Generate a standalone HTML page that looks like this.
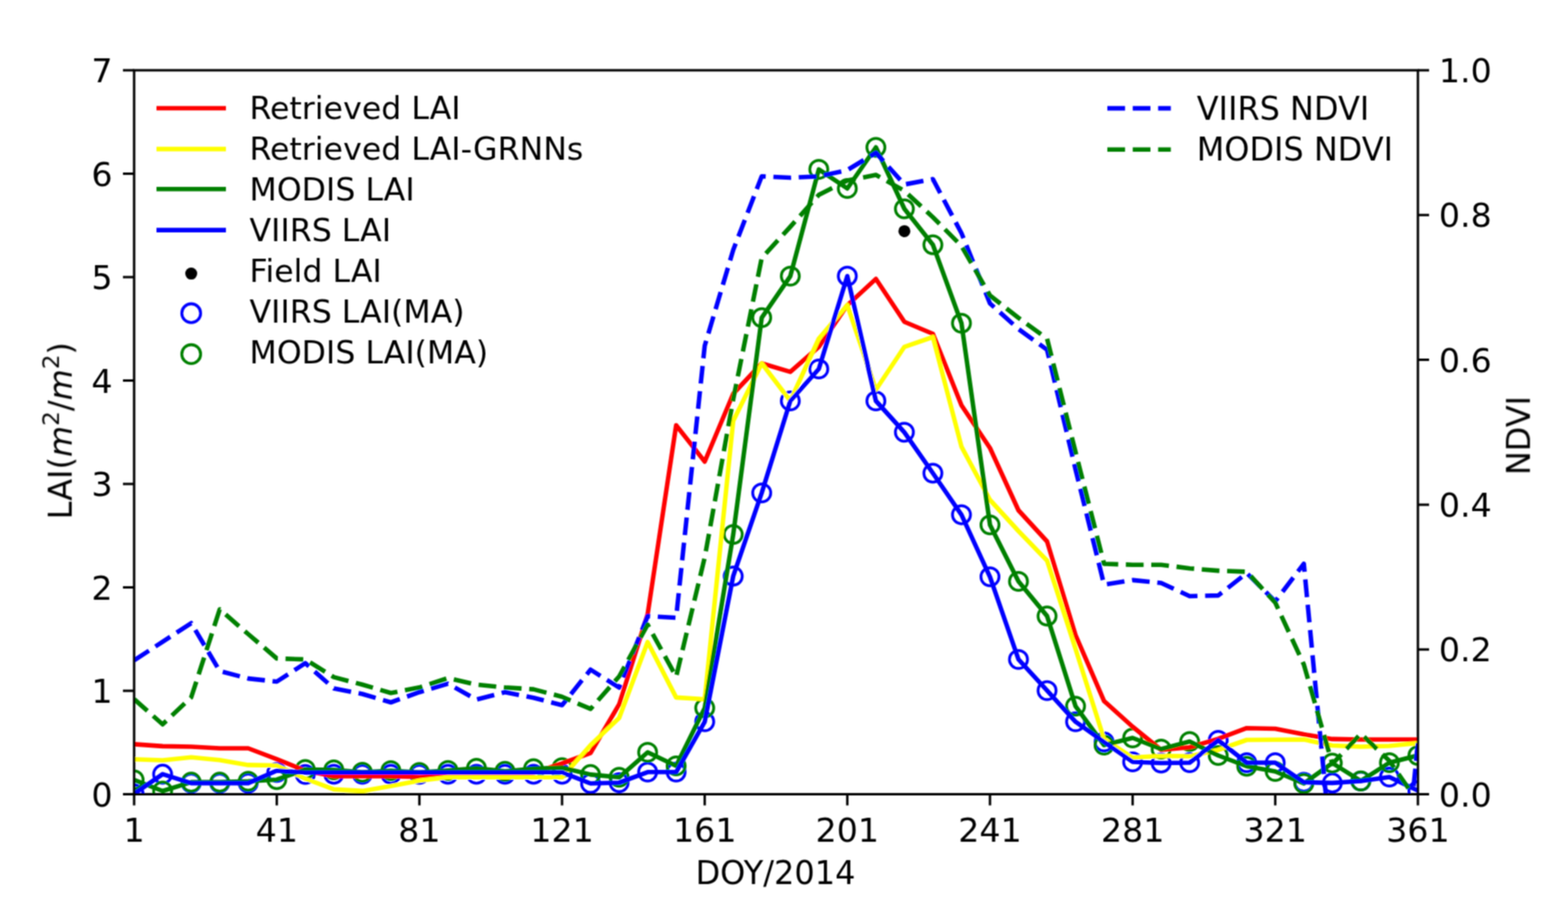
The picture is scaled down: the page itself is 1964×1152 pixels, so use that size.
<!DOCTYPE html>
<html><head><meta charset="utf-8"><title>LAI and NDVI time series</title>
<style>html,body{margin:0;padding:0;background:#fff;}body{width:1964px;height:1152px;overflow:hidden;}svg{display:block;}</style>
</head><body>
<svg width="1964" height="1152" viewBox="0 0 1964 1152" font-family="'DejaVu Sans', 'Liberation Sans', sans-serif">
<rect width="1964" height="1152" fill="#fff"/>
<filter id="soft" x="0" y="0" width="1964" height="1152" filterUnits="userSpaceOnUse"><feConvolveMatrix order="3" kernelMatrix="1 2 1 2 4 2 1 2 1" divisor="16" edgeMode="duplicate"/></filter>
<g filter="url(#soft)">
<defs><clipPath id="ax"><rect x="168.0" y="88.0" width="1608.0" height="906.5"/></clipPath></defs>
<g clip-path="url(#ax)">
<circle cx="168.0" cy="994.0" r="11.3" fill="none" stroke="#0000ff" stroke-width="3.5"/><circle cx="203.7" cy="969.4" r="11.3" fill="none" stroke="#0000ff" stroke-width="3.5"/><circle cx="239.5" cy="980.6" r="11.3" fill="none" stroke="#0000ff" stroke-width="3.5"/><circle cx="275.2" cy="980.6" r="11.3" fill="none" stroke="#0000ff" stroke-width="3.5"/><circle cx="310.9" cy="980.6" r="11.3" fill="none" stroke="#0000ff" stroke-width="3.5"/><circle cx="346.7" cy="967.3" r="11.3" fill="none" stroke="#0000ff" stroke-width="3.5"/><circle cx="382.4" cy="969.8" r="11.3" fill="none" stroke="#0000ff" stroke-width="3.5"/><circle cx="418.1" cy="969.5" r="11.3" fill="none" stroke="#0000ff" stroke-width="3.5"/><circle cx="453.9" cy="969.5" r="11.3" fill="none" stroke="#0000ff" stroke-width="3.5"/><circle cx="489.6" cy="969.5" r="11.3" fill="none" stroke="#0000ff" stroke-width="3.5"/><circle cx="525.3" cy="969.5" r="11.3" fill="none" stroke="#0000ff" stroke-width="3.5"/><circle cx="561.1" cy="969.5" r="11.3" fill="none" stroke="#0000ff" stroke-width="3.5"/><circle cx="596.8" cy="969.5" r="11.3" fill="none" stroke="#0000ff" stroke-width="3.5"/><circle cx="632.5" cy="969.5" r="11.3" fill="none" stroke="#0000ff" stroke-width="3.5"/><circle cx="668.3" cy="969.5" r="11.3" fill="none" stroke="#0000ff" stroke-width="3.5"/><circle cx="704.0" cy="969.5" r="11.3" fill="none" stroke="#0000ff" stroke-width="3.5"/><circle cx="739.7" cy="981.0" r="11.3" fill="none" stroke="#0000ff" stroke-width="3.5"/><circle cx="775.5" cy="980.0" r="11.3" fill="none" stroke="#0000ff" stroke-width="3.5"/><circle cx="811.2" cy="966.8" r="11.3" fill="none" stroke="#0000ff" stroke-width="3.5"/><circle cx="846.9" cy="966.8" r="11.3" fill="none" stroke="#0000ff" stroke-width="3.5"/><circle cx="882.7" cy="903.8" r="11.3" fill="none" stroke="#0000ff" stroke-width="3.5"/><circle cx="918.4" cy="721.4" r="11.3" fill="none" stroke="#0000ff" stroke-width="3.5"/><circle cx="954.1" cy="617.2" r="11.3" fill="none" stroke="#0000ff" stroke-width="3.5"/><circle cx="989.9" cy="502.0" r="11.3" fill="none" stroke="#0000ff" stroke-width="3.5"/><circle cx="1025.6" cy="462.0" r="11.3" fill="none" stroke="#0000ff" stroke-width="3.5"/><circle cx="1061.3" cy="345.8" r="11.3" fill="none" stroke="#0000ff" stroke-width="3.5"/><circle cx="1097.1" cy="502.0" r="11.3" fill="none" stroke="#0000ff" stroke-width="3.5"/><circle cx="1132.8" cy="541.3" r="11.3" fill="none" stroke="#0000ff" stroke-width="3.5"/><circle cx="1168.5" cy="592.5" r="11.3" fill="none" stroke="#0000ff" stroke-width="3.5"/><circle cx="1204.3" cy="644.6" r="11.3" fill="none" stroke="#0000ff" stroke-width="3.5"/><circle cx="1240.0" cy="722.3" r="11.3" fill="none" stroke="#0000ff" stroke-width="3.5"/><circle cx="1275.7" cy="825.7" r="11.3" fill="none" stroke="#0000ff" stroke-width="3.5"/><circle cx="1311.5" cy="864.7" r="11.3" fill="none" stroke="#0000ff" stroke-width="3.5"/><circle cx="1347.2" cy="903.8" r="11.3" fill="none" stroke="#0000ff" stroke-width="3.5"/><circle cx="1382.9" cy="929.0" r="11.3" fill="none" stroke="#0000ff" stroke-width="3.5"/><circle cx="1418.7" cy="954.0" r="11.3" fill="none" stroke="#0000ff" stroke-width="3.5"/><circle cx="1454.4" cy="955.5" r="11.3" fill="none" stroke="#0000ff" stroke-width="3.5"/><circle cx="1490.1" cy="955.0" r="11.3" fill="none" stroke="#0000ff" stroke-width="3.5"/><circle cx="1525.9" cy="927.0" r="11.3" fill="none" stroke="#0000ff" stroke-width="3.5"/><circle cx="1561.6" cy="955.0" r="11.3" fill="none" stroke="#0000ff" stroke-width="3.5"/><circle cx="1597.3" cy="955.0" r="11.3" fill="none" stroke="#0000ff" stroke-width="3.5"/><circle cx="1633.1" cy="979.5" r="11.3" fill="none" stroke="#0000ff" stroke-width="3.5"/><circle cx="1668.8" cy="980.4" r="11.3" fill="none" stroke="#0000ff" stroke-width="3.5"/><circle cx="1704.5" cy="978.0" r="11.3" fill="none" stroke="#0000ff" stroke-width="3.5"/><circle cx="1740.3" cy="973.0" r="11.3" fill="none" stroke="#0000ff" stroke-width="3.5"/><circle cx="1776.0" cy="990.0" r="11.3" fill="none" stroke="#0000ff" stroke-width="3.5"/>
<circle cx="168.0" cy="976.5" r="11.3" fill="none" stroke="#008000" stroke-width="3.5"/><circle cx="203.7" cy="990.5" r="11.3" fill="none" stroke="#008000" stroke-width="3.5"/><circle cx="239.5" cy="979.4" r="11.3" fill="none" stroke="#008000" stroke-width="3.5"/><circle cx="275.2" cy="979.4" r="11.3" fill="none" stroke="#008000" stroke-width="3.5"/><circle cx="310.9" cy="978.3" r="11.3" fill="none" stroke="#008000" stroke-width="3.5"/><circle cx="346.7" cy="976.2" r="11.3" fill="none" stroke="#008000" stroke-width="3.5"/><circle cx="382.4" cy="963.5" r="11.3" fill="none" stroke="#008000" stroke-width="3.5"/><circle cx="418.1" cy="964.0" r="11.3" fill="none" stroke="#008000" stroke-width="3.5"/><circle cx="453.9" cy="967.0" r="11.3" fill="none" stroke="#008000" stroke-width="3.5"/><circle cx="489.6" cy="965.0" r="11.3" fill="none" stroke="#008000" stroke-width="3.5"/><circle cx="525.3" cy="967.2" r="11.3" fill="none" stroke="#008000" stroke-width="3.5"/><circle cx="561.1" cy="964.7" r="11.3" fill="none" stroke="#008000" stroke-width="3.5"/><circle cx="596.8" cy="962.1" r="11.3" fill="none" stroke="#008000" stroke-width="3.5"/><circle cx="632.5" cy="965.7" r="11.3" fill="none" stroke="#008000" stroke-width="3.5"/><circle cx="668.3" cy="962.6" r="11.3" fill="none" stroke="#008000" stroke-width="3.5"/><circle cx="704.0" cy="961.2" r="11.3" fill="none" stroke="#008000" stroke-width="3.5"/><circle cx="739.7" cy="969.9" r="11.3" fill="none" stroke="#008000" stroke-width="3.5"/><circle cx="775.5" cy="973.3" r="11.3" fill="none" stroke="#008000" stroke-width="3.5"/><circle cx="811.2" cy="942.0" r="11.3" fill="none" stroke="#008000" stroke-width="3.5"/><circle cx="846.9" cy="959.0" r="11.3" fill="none" stroke="#008000" stroke-width="3.5"/><circle cx="882.7" cy="886.5" r="11.3" fill="none" stroke="#008000" stroke-width="3.5"/><circle cx="918.4" cy="669.3" r="11.3" fill="none" stroke="#008000" stroke-width="3.5"/><circle cx="954.1" cy="397.8" r="11.3" fill="none" stroke="#008000" stroke-width="3.5"/><circle cx="989.9" cy="345.8" r="11.3" fill="none" stroke="#008000" stroke-width="3.5"/><circle cx="1025.6" cy="212.1" r="11.3" fill="none" stroke="#008000" stroke-width="3.5"/><circle cx="1061.3" cy="236.0" r="11.3" fill="none" stroke="#008000" stroke-width="3.5"/><circle cx="1097.1" cy="184.5" r="11.3" fill="none" stroke="#008000" stroke-width="3.5"/><circle cx="1132.8" cy="261.5" r="11.3" fill="none" stroke="#008000" stroke-width="3.5"/><circle cx="1168.5" cy="306.5" r="11.3" fill="none" stroke="#008000" stroke-width="3.5"/><circle cx="1204.3" cy="404.8" r="11.3" fill="none" stroke="#008000" stroke-width="3.5"/><circle cx="1240.0" cy="657.2" r="11.3" fill="none" stroke="#008000" stroke-width="3.5"/><circle cx="1275.7" cy="728.0" r="11.3" fill="none" stroke="#008000" stroke-width="3.5"/><circle cx="1311.5" cy="771.4" r="11.3" fill="none" stroke="#008000" stroke-width="3.5"/><circle cx="1347.2" cy="884.3" r="11.3" fill="none" stroke="#008000" stroke-width="3.5"/><circle cx="1382.9" cy="933.0" r="11.3" fill="none" stroke="#008000" stroke-width="3.5"/><circle cx="1418.7" cy="924.0" r="11.3" fill="none" stroke="#008000" stroke-width="3.5"/><circle cx="1454.4" cy="938.0" r="11.3" fill="none" stroke="#008000" stroke-width="3.5"/><circle cx="1490.1" cy="928.5" r="11.3" fill="none" stroke="#008000" stroke-width="3.5"/><circle cx="1525.9" cy="946.0" r="11.3" fill="none" stroke="#008000" stroke-width="3.5"/><circle cx="1561.6" cy="959.5" r="11.3" fill="none" stroke="#008000" stroke-width="3.5"/><circle cx="1597.3" cy="966.0" r="11.3" fill="none" stroke="#008000" stroke-width="3.5"/><circle cx="1633.1" cy="981.0" r="11.3" fill="none" stroke="#008000" stroke-width="3.5"/><circle cx="1668.8" cy="955.5" r="11.3" fill="none" stroke="#008000" stroke-width="3.5"/><circle cx="1704.5" cy="977.9" r="11.3" fill="none" stroke="#008000" stroke-width="3.5"/><circle cx="1740.3" cy="955.0" r="11.3" fill="none" stroke="#008000" stroke-width="3.5"/><circle cx="1776.0" cy="946.0" r="11.3" fill="none" stroke="#008000" stroke-width="3.5"/>
<polyline points="168.0,931.9 203.7,934.4 239.5,935.0 275.2,937.0 310.9,937.0 346.7,950.7 382.4,965.0 418.1,972.0 453.9,972.0 489.6,972.0 525.3,973.0 561.1,972.0 596.8,971.3 632.5,971.0 668.3,968.0 704.0,956.0 739.7,942.8 775.5,882.0 811.2,769.2 846.9,532.6 882.7,578.0 918.4,493.0 954.1,455.0 989.9,465.6 1025.6,434.3 1061.3,382.2 1097.1,349.2 1132.8,403.0 1168.5,418.0 1204.3,507.5 1240.0,561.0 1275.7,639.0 1311.5,678.0 1347.2,795.3 1382.9,877.8 1418.7,910.0 1454.4,939.0 1490.1,935.7 1525.9,925.1 1561.6,911.7 1597.3,912.5 1633.1,919.6 1668.8,925.4 1704.5,926.0 1740.3,926.0 1776.0,926.0" fill="none" stroke="#ff0000" stroke-width="5.6" stroke-linejoin="round" stroke-linecap="square"/>
<polyline points="168.0,950.7 203.7,952.0 239.5,948.2 275.2,951.7 310.9,957.9 346.7,958.5 382.4,975.0 418.1,988.4 453.9,990.4 489.6,984.3 525.3,977.4 561.1,973.3 596.8,973.3 632.5,973.3 668.3,973.3 704.0,973.3 739.7,933.0 775.5,899.0 811.2,804.0 846.9,873.4 882.7,875.6 918.4,527.0 954.1,455.0 989.9,502.0 1025.6,424.0 1061.3,382.0 1097.1,488.0 1132.8,434.3 1168.5,422.0 1204.3,559.4 1240.0,626.0 1275.7,665.0 1311.5,702.0 1347.2,812.6 1382.9,925.5 1418.7,948.6 1454.4,946.5 1490.1,947.0 1525.9,939.0 1561.6,926.5 1597.3,926.3 1633.1,926.0 1668.8,933.5 1704.5,935.0 1740.3,934.0 1776.0,930.5" fill="none" stroke="#ffff00" stroke-width="5.6" stroke-linejoin="round" stroke-linecap="square"/>
<polyline points="168.0,976.5 203.7,990.5 239.5,979.4 275.2,979.4 310.9,978.3 346.7,976.2 382.4,963.5 418.1,964.0 453.9,967.0 489.6,965.0 525.3,967.2 561.1,964.7 596.8,962.1 632.5,965.7 668.3,962.6 704.0,961.2 739.7,969.9 775.5,973.3 811.2,942.0 846.9,959.0 882.7,886.5 918.4,669.3 954.1,397.8 989.9,345.8 1025.6,212.1 1061.3,236.0 1097.1,184.5 1132.8,261.5 1168.5,306.5 1204.3,404.8 1240.0,657.2 1275.7,728.0 1311.5,771.4 1347.2,884.3 1382.9,933.0 1418.7,924.0 1454.4,938.0 1490.1,928.5 1525.9,946.0 1561.6,959.5 1597.3,966.0 1633.1,981.0 1668.8,955.5 1704.5,977.9 1740.3,955.0 1776.0,946.0" fill="none" stroke="#008000" stroke-width="5.6" stroke-linejoin="round" stroke-linecap="square"/>
<polyline points="168.0,994.0 203.7,969.4 239.5,980.6 275.2,980.6 310.9,980.6 346.7,965.0 382.4,967.5 418.1,967.2 453.9,967.2 489.6,967.2 525.3,967.2 561.1,967.2 596.8,967.2 632.5,967.2 668.3,967.2 704.0,967.2 739.7,981.0 775.5,980.0 811.2,966.8 846.9,966.8 882.7,903.8 918.4,721.4 954.1,617.2 989.9,502.0 1025.6,462.0 1061.3,345.8 1097.1,502.0 1132.8,541.3 1168.5,592.5 1204.3,644.6 1240.0,722.3 1275.7,825.7 1311.5,864.7 1347.2,903.8 1382.9,929.0 1418.7,954.0 1454.4,955.5 1490.1,955.0 1525.9,927.0 1561.6,955.0 1597.3,955.0 1633.1,979.5 1668.8,980.4 1704.5,978.0 1740.3,973.0 1776.0,990.0" fill="none" stroke="#0000ff" stroke-width="5.6" stroke-linejoin="round" stroke-linecap="square"/>
<circle cx="1132.8" cy="289.4" r="7.5" fill="#000"/>
<polyline points="168.0,826.9 203.7,803.6 239.5,780.3 275.2,840.2 310.9,849.6 346.7,853.5 382.4,830.4 418.1,862.0 453.9,869.0 489.6,879.5 525.3,866.7 561.1,856.1 596.8,876.0 632.5,866.7 668.3,873.7 704.0,883.0 739.7,838.5 775.5,861.0 811.2,771.4 846.9,773.6 882.7,433.0 918.4,313.0 954.1,220.8 989.9,222.5 1025.6,220.8 1061.3,213.0 1097.1,191.3 1132.8,231.0 1168.5,224.3 1204.3,292.0 1240.0,380.0 1275.7,412.0 1311.5,438.0 1347.2,588.0 1382.9,732.0 1418.7,726.4 1454.4,730.0 1490.1,746.5 1525.9,745.6 1561.6,717.6 1597.3,753.0 1633.1,706.0 1668.8,1080.0 1704.5,1120.0 1740.3,1290.0 1776.0,930.0" fill="none" stroke="#0000ff" stroke-width="5.6" stroke-linejoin="round" stroke-linecap="butt" stroke-dasharray="22.2 9.6"/>
<polyline points="168.0,875.4 203.7,907.0 239.5,873.2 275.2,763.0 310.9,794.0 346.7,824.5 382.4,825.7 418.1,847.9 453.9,857.3 489.6,867.8 525.3,860.8 561.1,849.1 596.8,857.3 632.5,860.8 668.3,863.1 704.0,872.5 739.7,887.7 775.5,847.0 811.2,782.2 846.9,847.4 882.7,698.0 918.4,500.0 954.1,323.0 989.9,284.0 1025.6,244.0 1061.3,226.0 1097.1,219.0 1132.8,239.0 1168.5,272.0 1204.3,308.0 1240.0,370.0 1275.7,398.0 1311.5,424.0 1347.2,566.0 1382.9,706.0 1418.7,707.2 1454.4,707.2 1490.1,711.7 1525.9,714.6 1561.6,716.0 1597.3,754.5 1633.1,832.0 1668.8,956.6 1704.5,918.7 1740.3,952.8 1776.0,1004.0" fill="none" stroke="#008000" stroke-width="5.6" stroke-linejoin="round" stroke-linecap="butt" stroke-dasharray="22.2 9.6"/>
</g>
<rect x="168.0" y="88.0" width="1608.0" height="906.5" fill="none" stroke="#000" stroke-width="3.0"/>
<path d="M168.0,994.5h-14 M168.0,865.0h-14 M168.0,735.5h-14 M168.0,606.0h-14 M168.0,476.5h-14 M168.0,347.0h-14 M168.0,217.5h-14 M168.0,88.0h-14 M1776.0,994.5h14 M1776.0,813.2h14 M1776.0,631.9h14 M1776.0,450.6h14 M1776.0,269.3h14 M1776.0,88.0h14 M168.0,994.5v14 M346.7,994.5v14 M525.3,994.5v14 M704.0,994.5v14 M882.7,994.5v14 M1061.3,994.5v14 M1240.0,994.5v14 M1418.7,994.5v14 M1597.3,994.5v14 M1776.0,994.5v14" stroke="#000" stroke-width="3.0" fill="none"/>
<g font-size="41.7" fill="#000"><text x="141.0" y="1009.5" text-anchor="end">0</text><text x="141.0" y="880.0" text-anchor="end">1</text><text x="141.0" y="750.5" text-anchor="end">2</text><text x="141.0" y="621.0" text-anchor="end">3</text><text x="141.0" y="491.5" text-anchor="end">4</text><text x="141.0" y="362.0" text-anchor="end">5</text><text x="141.0" y="232.5" text-anchor="end">6</text><text x="141.0" y="103.0" text-anchor="end">7</text><text x="1802.3" y="1009.5">0.0</text><text x="1802.3" y="828.2">0.2</text><text x="1802.3" y="646.9">0.4</text><text x="1802.3" y="465.6">0.6</text><text x="1802.3" y="284.3">0.8</text><text x="1802.3" y="103.0">1.0</text><text x="168.0" y="1053.5" text-anchor="middle">1</text><text x="346.7" y="1053.5" text-anchor="middle">41</text><text x="525.3" y="1053.5" text-anchor="middle">81</text><text x="704.0" y="1053.5" text-anchor="middle">121</text><text x="882.7" y="1053.5" text-anchor="middle">161</text><text x="1061.3" y="1053.5" text-anchor="middle">201</text><text x="1240.0" y="1053.5" text-anchor="middle">241</text><text x="1418.7" y="1053.5" text-anchor="middle">281</text><text x="1597.3" y="1053.5" text-anchor="middle">321</text><text x="1776.0" y="1053.5" text-anchor="middle">361</text></g>
<text x="971.3" y="1106.6" font-size="40.1" text-anchor="middle">DOY/2014</text>
<text transform="translate(1916.3,545.4) rotate(-90)" font-size="40" text-anchor="middle">NDVI</text>
<text transform="translate(89.8,539.3) rotate(-90)" font-size="40" text-anchor="middle">LAI(<tspan font-style="italic">m</tspan><tspan font-size="29" dy="-16">2</tspan><tspan dy="16">/</tspan><tspan font-style="italic">m</tspan><tspan font-size="29" dy="-16">2</tspan><tspan dy="16">)</tspan></text>
<line x1="196" y1="135.5" x2="283" y2="135.5" stroke="#ff0000" stroke-width="5.6"/>
<text x="312.5" y="148.9" font-size="39.6">Retrieved LAI</text>
<line x1="196" y1="186.6" x2="283" y2="186.6" stroke="#ffff00" stroke-width="5.6"/>
<text x="312.5" y="199.9" font-size="39.6">Retrieved LAI-GRNNs</text>
<line x1="196" y1="236.8" x2="283" y2="236.8" stroke="#008000" stroke-width="5.6"/>
<text x="312.5" y="250.8" font-size="39.6">MODIS LAI</text>
<line x1="196" y1="288.1" x2="283" y2="288.1" stroke="#0000ff" stroke-width="5.6"/>
<text x="312.5" y="301.8" font-size="39.6">VIIRS LAI</text>
<circle cx="239.5" cy="342.6" r="7.5" fill="#000"/>
<text x="312.5" y="352.7" font-size="39.6">Field LAI</text>
<circle cx="239.5" cy="392.2" r="11.8" fill="none" stroke="#0000ff" stroke-width="3.6"/>
<text x="312.5" y="403.6" font-size="39.6">VIIRS LAI(MA)</text>
<circle cx="239.5" cy="443.4" r="11.8" fill="none" stroke="#008000" stroke-width="3.6"/>
<text x="312.5" y="454.6" font-size="39.6">MODIS LAI(MA)</text>
<line x1="1387" y1="135.6" x2="1466.5" y2="135.6" stroke="#0000ff" stroke-width="5.6" stroke-dasharray="22.2 9.6"/>
<text x="1499" y="149.9" font-size="40">VIIRS NDVI</text>
<line x1="1387" y1="187.2" x2="1466.5" y2="187.2" stroke="#008000" stroke-width="5.6" stroke-dasharray="22.2 9.6"/>
<text x="1499" y="201.3" font-size="40">MODIS NDVI</text>
</g>
</svg>
</body></html>
